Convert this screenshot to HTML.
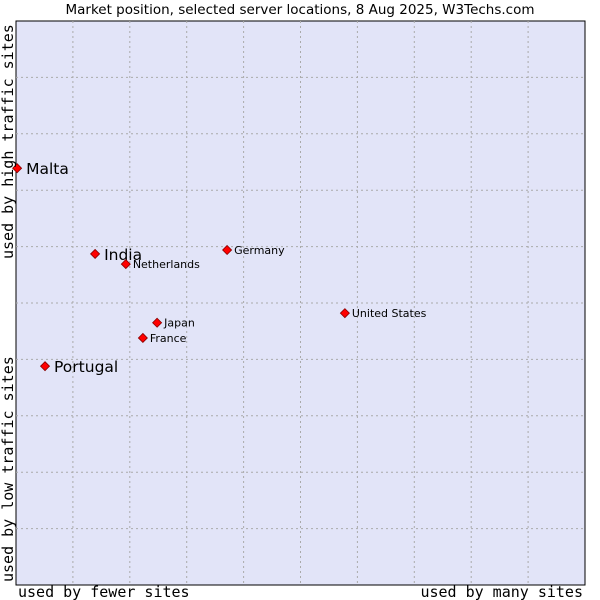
<!DOCTYPE html>
<html><head><meta charset="utf-8"><style>
html,body{margin:0;padding:0;background:#fff;width:600px;height:600px;overflow:hidden}
svg text{font-family:"DejaVu Sans","Liberation Sans",sans-serif}
.mono{font-family:"DejaVu Sans Mono","Liberation Mono",monospace}
</style></head><body>
<svg id="chart" width="600" height="600">
<text x="300" y="14" text-anchor="middle" font-size="13.5" fill="#000">Market position, selected server locations, 8 Aug 2025, W3Techs.com</text>
<rect x="16" y="21" width="569" height="564" fill="#e2e4f8" stroke="#000" stroke-width="1"/>
<g id="grid"></g>
<g id="points"></g>
<text class="mono" x="18" y="597" font-size="15">used by fewer sites</text>
<text class="mono" x="583" y="597" font-size="15" text-anchor="end">used by many sites</text>
<text class="mono" transform="translate(13,582) rotate(-90)" font-size="15">used by low traffic sites</text>
<text class="mono" transform="translate(13,259) rotate(-90)" font-size="15">used by high traffic sites</text>
</svg>
<script>
const names = ["Malta","India","Netherlands","Germany","United States","Japan","France","Portugal"];
const xValues = [0.2,13.9,19.3,37.1,57.8,24.8,22.3,5.1];
const yValues = [73.9,58.7,56.9,59.4,48.2,46.5,43.8,38.8];
const bigLabel = [true,true,false,false,false,false,false,true];
const X0=16,W=569,Y0=585,H=564;
const sx=v=>X0+v/100*W, sy=v=>Y0-v/100*H;
const NS="http://www.w3.org/2000/svg";
const grid=document.getElementById('grid');
for(let i=1;i<10;i++){
  const gx=document.createElementNS(NS,'line');
  gx.setAttribute('x1',sx(i*10));gx.setAttribute('x2',sx(i*10));gx.setAttribute('y1',21);gx.setAttribute('y2',585);
  gx.setAttribute('stroke','#aaa');gx.setAttribute('stroke-dasharray','2,3');
  
  
  grid.appendChild(gx);
  const gy=document.createElementNS(NS,'line');
  gy.setAttribute('y1',sy(i*10));gy.setAttribute('y2',sy(i*10));gy.setAttribute('x1',16);gy.setAttribute('x2',585);
  gy.setAttribute('stroke','#aaa');gy.setAttribute('stroke-dasharray','2,3');
  
  
  grid.appendChild(gy);
}
const pts=document.getElementById('points');
names.forEach((n,i)=>{
  const x=sx(xValues[i]),y=sy(yValues[i]);
  const p=document.createElementNS(NS,'polygon');
  p.setAttribute('points',`${x},${y-4.5} ${x+4.5},${y} ${x},${y+4.5} ${x-4.5},${y}`);
  p.setAttribute('fill','#f00');p.setAttribute('stroke','#800');p.setAttribute('stroke-width','0.8');
  
  
  pts.appendChild(p);
  const t=document.createElementNS(NS,'text');
  t.setAttribute('x',x+(bigLabel[i]?9:7));
  t.setAttribute('y',y+(bigLabel[i]?6:4));
  t.setAttribute('font-size',bigLabel[i]?15.5:11);
  t.textContent=n;
  
  
  pts.appendChild(t);
});
</script>
</body></html>
